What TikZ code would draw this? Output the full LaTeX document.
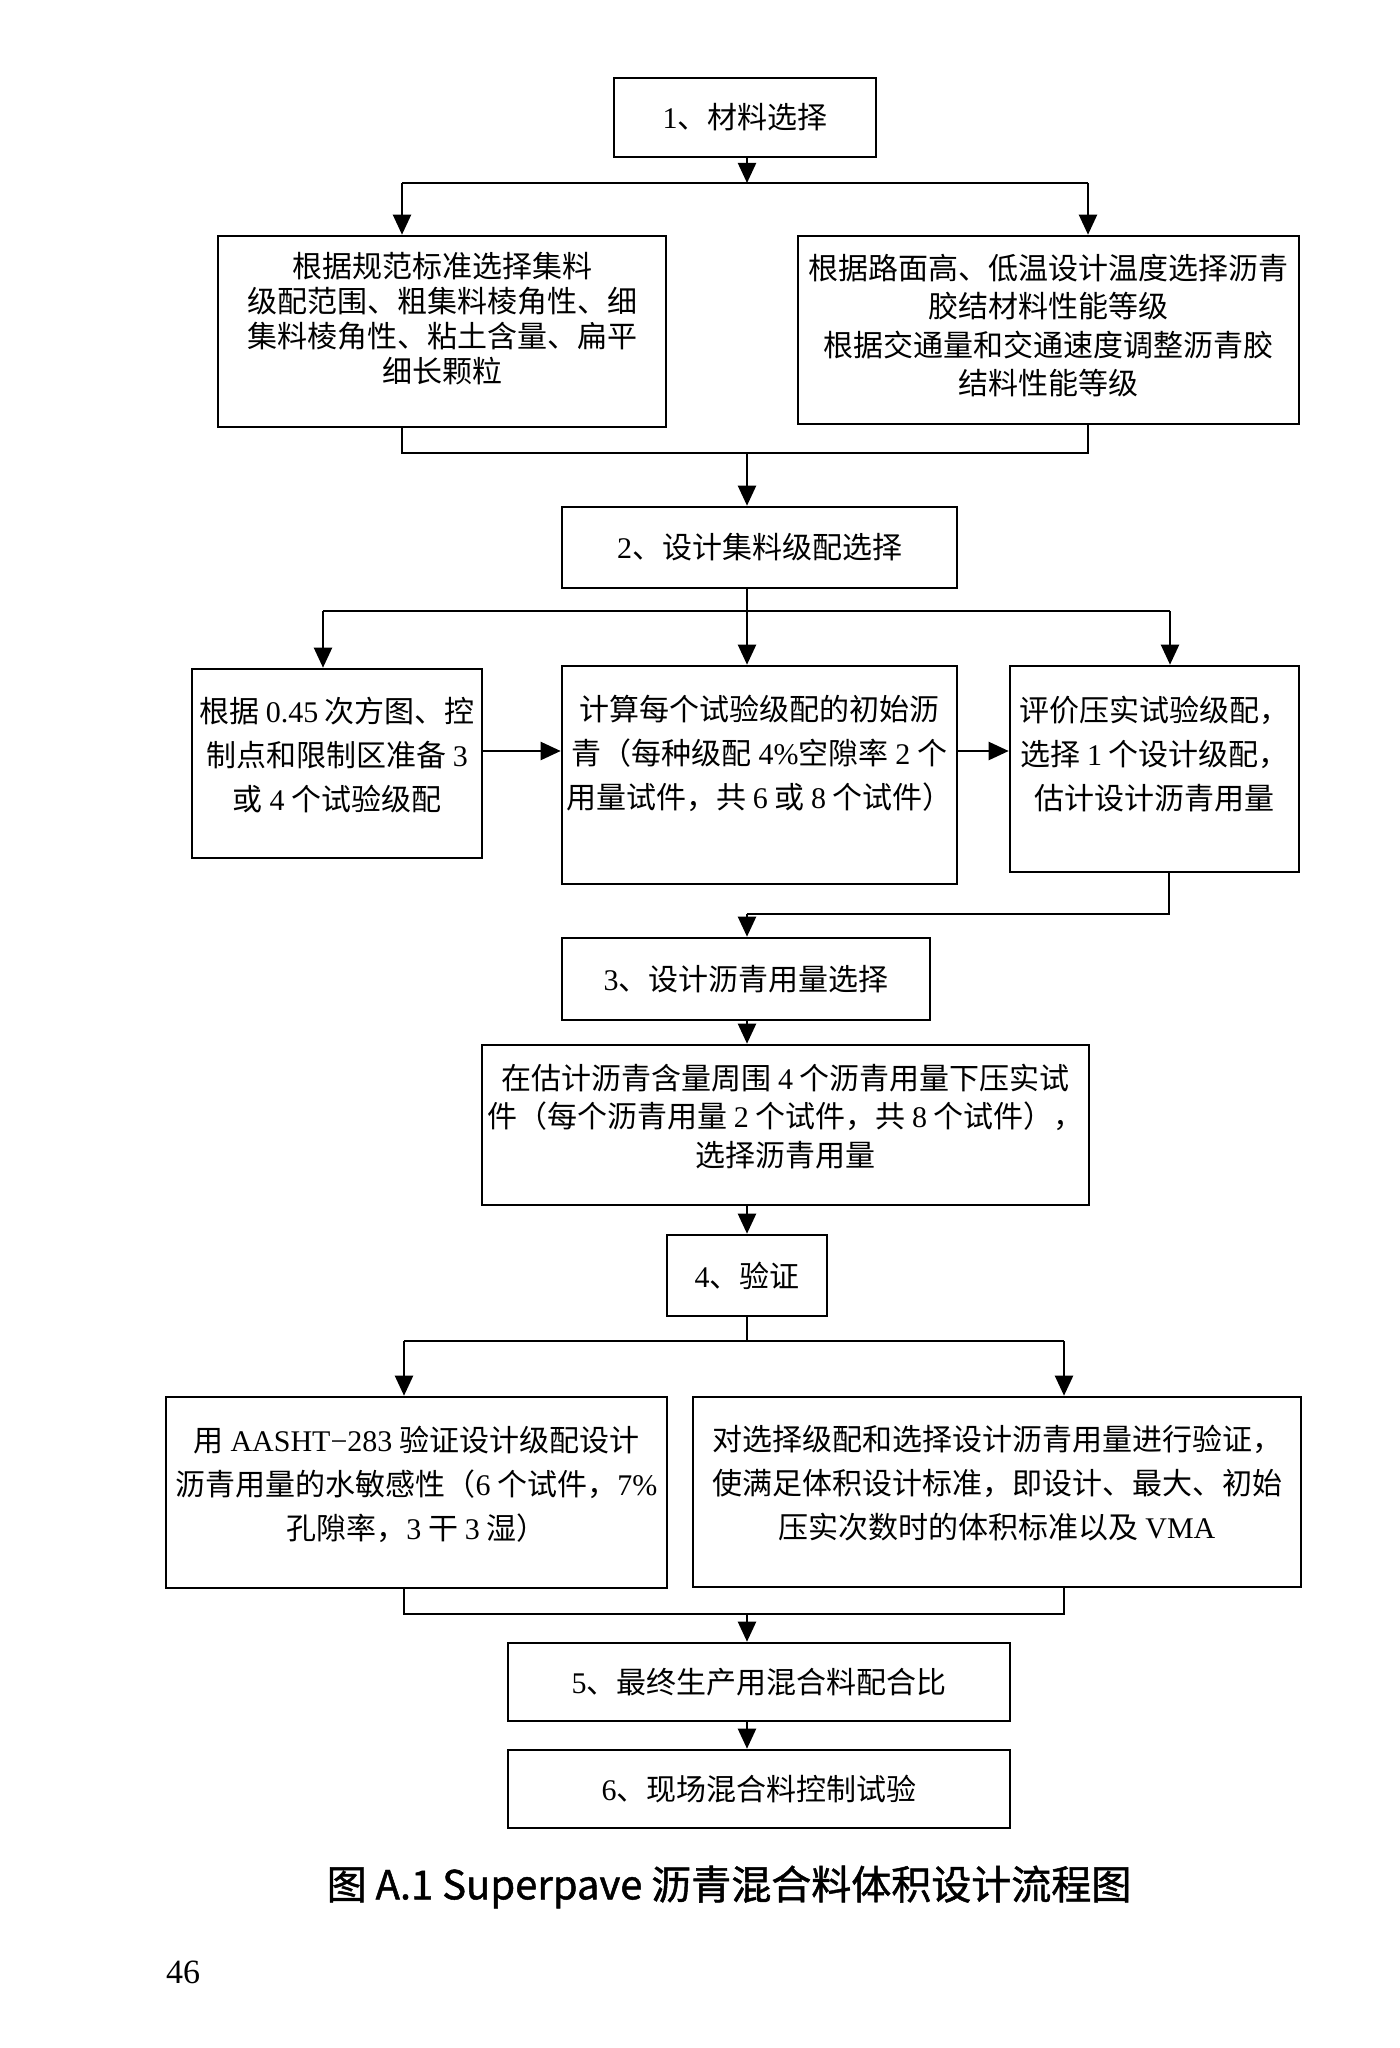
\documentclass[tikz,border=0pt]{standalone}
\usepackage{fontspec}
\setmainfont{Liberation Serif}
\newfontfamily\cjk{Noto Sans CJK SC}
\newfontfamily\cjkhei[FakeBold=1.2]{Noto Sans CJK SC}
\usetikzlibrary{arrows.meta}
\newcommand\lat[1]{{\rmfamily #1}}

\begin{document}
\begin{tikzpicture}[x=0.5pt,y=-0.5pt,
  box/.style={draw,line width=1.3pt,inner xsep=1pt,align=center,font=\cjk\fontsize{15}{22}\selectfont},
  arr/.style={line width=1.1pt,-{Triangle[length=10pt,width=9pt]}},
  line/.style={line width=1.1pt}]
\fill[white] (0,0) rectangle (1400,2048);
\useasboundingbox (0,0) rectangle (1400,2048);

\node[box,minimum width=131pt,minimum height=39.5pt] (1) at (745,117.5) {\lat{1}、材料选择};
\node[box,minimum width=224pt,minimum height=95.5pt,font=\cjk\fontsize{15}{17.5}\selectfont,text depth=13.8pt] (1a) at (442,331.5)
  {根据规范标准选择集料\\级配范围、粗集料棱角性、细\\集料棱角性、粘土含量、扁平\\细长颗粒};
\node[box,minimum width=250.5pt,minimum height=94pt,font=\cjk\fontsize{15}{19.2}\selectfont,text depth=5.8pt] (1b) at (1048.5,330)
  {根据路面高、低温设计温度选择沥青\\胶结材料性能等级\\根据交通量和交通速度调整沥青胶\\结料性能等级};
\node[box,minimum width=197.5pt,minimum height=40.5pt] (2) at (759.5,547.5) {\lat{2}、设计集料级配选择};
\node[box,minimum width=145pt,minimum height=94.5pt,text depth=9.8pt] (2a) at (337,763.5)
  {根据 \lat{0.45} 次方图、控\\制点和限制区准备 \lat{3}\\或 \lat{4} 个试验级配};
\node[box,minimum width=197.5pt,minimum height=109pt,text depth=22.8pt] (2b) at (759.5,775)
  {计算每个试验级配的初始沥\\青（每种级配 \lat{4\%}空隙率 \lat{2} 个\\用量试件，共 \lat{6} 或 \lat{8} 个试件）};
\node[box,minimum width=144.5pt,minimum height=103pt,text depth=15.8pt] (2c) at (1154.5,769)
  {评价压实试验级配，\\选择 \lat{1} 个设计级配，\\估计设计沥青用量};
\node[box,minimum width=184pt,minimum height=41pt] (3) at (746,979) {\lat{3}、设计沥青用量选择};
\node[box,minimum width=303.5pt,minimum height=80pt,font=\cjk\fontsize{15}{19.2}\selectfont,text depth=9.8pt] (3a) at (785.5,1125)
  {在估计沥青含量周围 \lat{4} 个沥青用量下压实试\\件（每个沥青用量 \lat{2} 个试件，共 \lat{8} 个试件），\\选择沥青用量};
\node[box,minimum width=80pt,minimum height=40.5pt] (4) at (747,1275.5) {\lat{4}、验证};
\node[box,minimum width=250.5pt,minimum height=95.5pt,text depth=9.8pt] (4a) at (416.5,1492.5)
  {用 \lat{AASHT−283} 验证设计级配设计\\沥青用量的水敏感性（\lat{6} 个试件，\lat{7\%}\\孔隙率，\lat{3} 干 \lat{3} 湿）};
\node[box,minimum width=304pt,minimum height=95pt,text depth=9.8pt] (4b) at (997,1492)
  {对选择级配和选择设计沥青用量进行验证，\\使满足体积设计标准，即设计、最大、初始\\压实次数时的体积标准以及 \lat{VMA}};
\node[box,minimum width=251pt,minimum height=39pt] (5) at (759,1682) {\lat{5}、最终生产用混合料配合比};
\node[box,minimum width=251pt,minimum height=39pt] (6) at (759,1789) {\lat{6}、现场混合料控制试验};

\node[font=\cjkhei\fontsize{20}{24}\selectfont] (cap) at (729,1887) {图 A.1 Superpave 沥青混合料体积设计流程图};
\node[font=\fontsize{17}{20}\selectfont] (pg) at (183,1972) {46};

\coordinate (j1) at (747,183);
\coordinate (j1l) at (402,183);
\coordinate (j1r) at (1088,183);
\coordinate (j2) at (747,453);
\coordinate (j2l) at (402,453);
\coordinate (j2r) at (1088,453);
\coordinate (j3) at (747,611);
\coordinate (j3l) at (323,611);
\coordinate (j3r) at (1170,611);
\coordinate (pab) at (747,751);
\coordinate (j4) at (747,914);
\coordinate (j4r) at (1169,914);
\coordinate (j5) at (747,1341);
\coordinate (j5l) at (404,1341);
\coordinate (j5r) at (1064,1341);
\coordinate (j6) at (747,1614);
\coordinate (j6l) at (404,1614);
\coordinate (j6r) at (1064,1614);

\path[draw,arr] (j1 |- 1.south) -- (j1);
\path[draw,line] (j1l) -- (j1r);
\path[draw,arr] (j1l) -- (j1l |- 1a.north);
\path[draw,arr] (j1r) -- (j1r |- 1b.north);
\path[draw,line] (1a.south -| j2l) |- (j2r) -- (1b.south -| j2r);
\path[draw,arr] (j2) -- (j2 |- 2.north);

\path[draw,line] (j3 |- 2.south) -- (j3);
\path[draw,line] (j3l) -- (j3r);
\path[draw,arr] (j3l) -- (j3l |- 2a.north);
\path[draw,arr] (j3) -- (j3 |- 2b.north);
\path[draw,arr] (j3r) -- (j3r |- 2c.north);
\path[draw,arr] (2a.east |- pab) -- (2b.west |- pab);
\path[draw,arr] (2b.east |- pab) -- (2c.west |- pab);
\path[draw,line] (2c.south -| j4r) |- (j4);
\path[draw,arr] (j4) -- (j4 |- 3.north);
\path[draw,arr] (j4 |- 3.south) -- (j4 |- 3a.north);
\path[draw,arr] (j4 |- 3a.south) -- (j4 |- 4.north);

\path[draw,line] (j5 |- 4.south) -- (j5);
\path[draw,line] (j5l) -- (j5r);
\path[draw,arr] (j5l) -- (j5l |- 4a.north);
\path[draw,arr] (j5r) -- (j5r |- 4b.north);
\path[draw,line] (4a.south -| j6l) |- (j6r) -- (4b.south -| j6r);
\path[draw,arr] (j6) -- (j6 |- 5.north);
\path[draw,arr] (j6 |- 5.south) -- (j6 |- 6.north);
\end{tikzpicture}
\end{document}
